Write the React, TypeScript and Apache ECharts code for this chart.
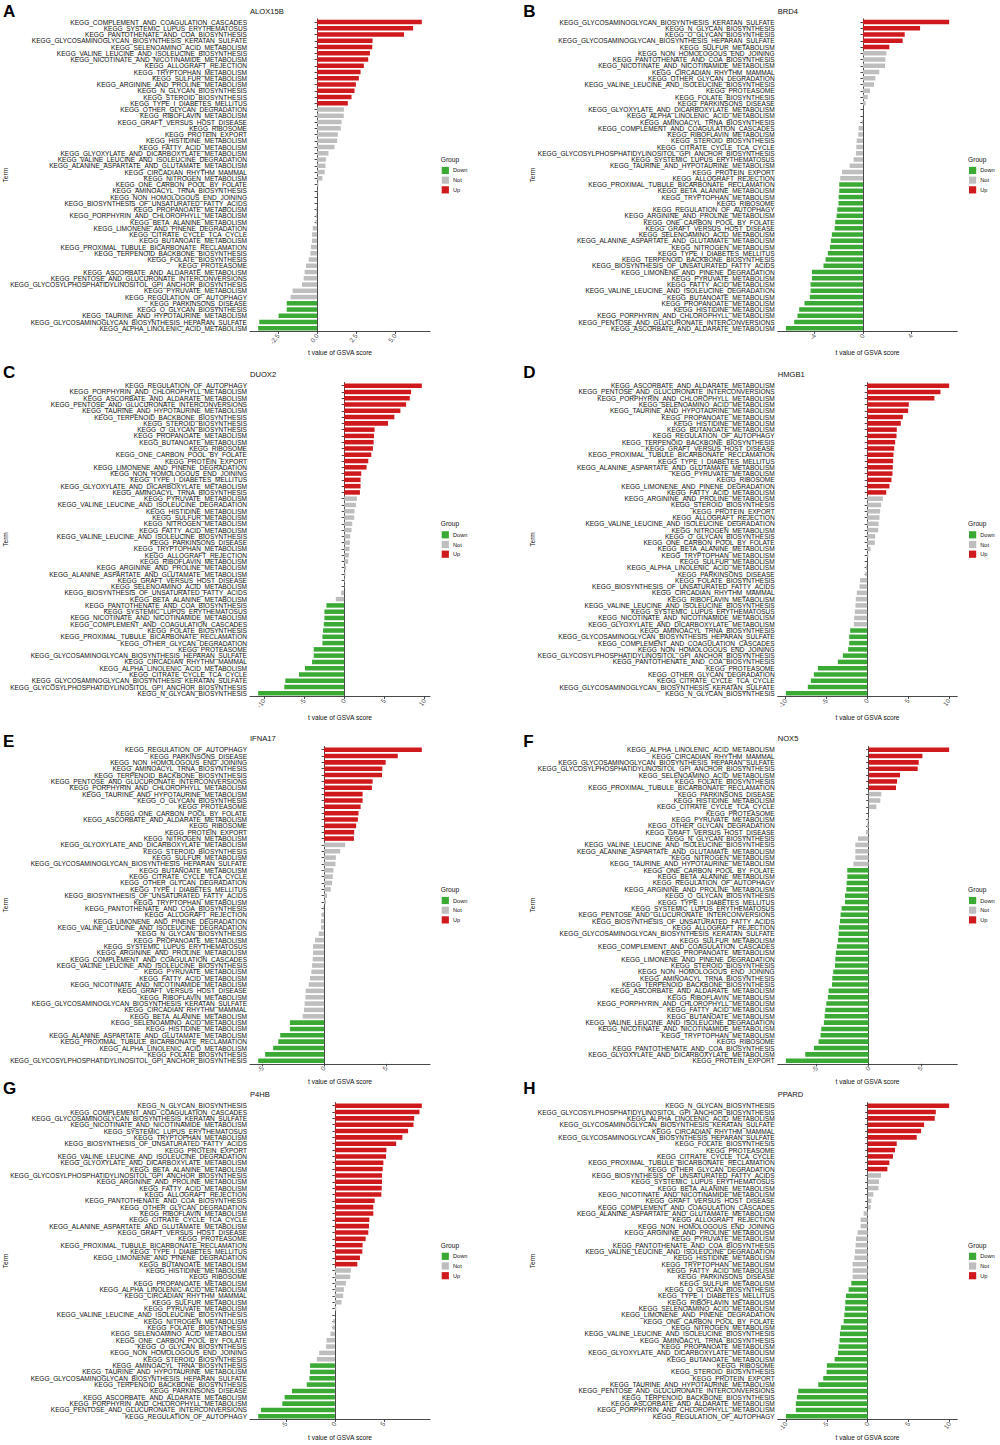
import React, { useEffect, useRef } from "react";
import * as echarts from "echarts";

// ---- term dictionary (short code -> KEGG term) ----
const TERM_NAMES: Record<string, string> = {
  CCC: "KEGG_COMPLEMENT_AND_COAGULATION_CASCADES",
  SLE: "KEGG_SYSTEMIC_LUPUS_ERYTHEMATOSUS",
  PAN: "KEGG_PANTOTHENATE_AND_COA_BIOSYNTHESIS",
  KER: "KEGG_GLYCOSAMINOGLYCAN_BIOSYNTHESIS_KERATAN_SULFATE",
  SEL: "KEGG_SELENOAMINO_ACID_METABOLISM",
  VLB: "KEGG_VALINE_LEUCINE_AND_ISOLEUCINE_BIOSYNTHESIS",
  NIC: "KEGG_NICOTINATE_AND_NICOTINAMIDE_METABOLISM",
  ALL: "KEGG_ALLOGRAFT_REJECTION",
  TRP: "KEGG_TRYPTOPHAN_METABOLISM",
  SUL: "KEGG_SULFUR_METABOLISM",
  ARG: "KEGG_ARGININE_AND_PROLINE_METABOLISM",
  NGL: "KEGG_N_GLYCAN_BIOSYNTHESIS",
  STE: "KEGG_STEROID_BIOSYNTHESIS",
  T1D: "KEGG_TYPE_I_DIABETES_MELLITUS",
  OGD: "KEGG_OTHER_GLYCAN_DEGRADATION",
  RIF: "KEGG_RIBOFLAVIN_METABOLISM",
  GVH: "KEGG_GRAFT_VERSUS_HOST_DISEASE",
  RIB: "KEGG_RIBOSOME",
  PEX: "KEGG_PROTEIN_EXPORT",
  HIS: "KEGG_HISTIDINE_METABOLISM",
  FAT: "KEGG_FATTY_ACID_METABOLISM",
  GLX: "KEGG_GLYOXYLATE_AND_DICARBOXYLATE_METABOLISM",
  VLD: "KEGG_VALINE_LEUCINE_AND_ISOLEUCINE_DEGRADATION",
  ALA: "KEGG_ALANINE_ASPARTATE_AND_GLUTAMATE_METABOLISM",
  CIR: "KEGG_CIRCADIAN_RHYTHM_MAMMAL",
  NIT: "KEGG_NITROGEN_METABOLISM",
  OCP: "KEGG_ONE_CARBON_POOL_BY_FOLATE",
  AMI: "KEGG_AMINOACYL_TRNA_BIOSYNTHESIS",
  NHE: "KEGG_NON_HOMOLOGOUS_END_JOINING",
  BUF: "KEGG_BIOSYNTHESIS_OF_UNSATURATED_FATTY_ACIDS",
  PRO: "KEGG_PROPANOATE_METABOLISM",
  POR: "KEGG_PORPHYRIN_AND_CHLOROPHYLL_METABOLISM",
  BAL: "KEGG_BETA_ALANINE_METABOLISM",
  LIM: "KEGG_LIMONENE_AND_PINENE_DEGRADATION",
  TCA: "KEGG_CITRATE_CYCLE_TCA_CYCLE",
  BUT: "KEGG_BUTANOATE_METABOLISM",
  PTB: "KEGG_PROXIMAL_TUBULE_BICARBONATE_RECLAMATION",
  TER: "KEGG_TERPENOID_BACKBONE_BIOSYNTHESIS",
  FOL: "KEGG_FOLATE_BIOSYNTHESIS",
  PSM: "KEGG_PROTEASOME",
  ASC: "KEGG_ASCORBATE_AND_ALDARATE_METABOLISM",
  PEN: "KEGG_PENTOSE_AND_GLUCURONATE_INTERCONVERSIONS",
  GPI: "KEGG_GLYCOSYLPHOSPHATIDYLINOSITOL_GPI_ANCHOR_BIOSYNTHESIS",
  PYR: "KEGG_PYRUVATE_METABOLISM",
  AUT: "KEGG_REGULATION_OF_AUTOPHAGY",
  PAR: "KEGG_PARKINSONS_DISEASE",
  OGL: "KEGG_O_GLYCAN_BIOSYNTHESIS",
  TAU: "KEGG_TAURINE_AND_HYPOTAURINE_METABOLISM",
  HEP: "KEGG_GLYCOSAMINOGLYCAN_BIOSYNTHESIS_HEPARAN_SULFATE",
  ALN: "KEGG_ALPHA_LINOLENIC_ACID_METABOLISM",
};

const panelLetters = ["A", "B", "C", "D", "E", "F", "G", "H"];
const geneNames = ["ALOX15B", "BRD4", "DUOX2", "HMGB1", "IFNA17", "NOX5", "P4HB", "PPARD"];
const groupNames = ["Down", "Not", "Up"];
const xAxisTitle = "t value of GSVA score";
const yAxisTitle = "Term";
const legendTitle = "Group";

// ---- A: ALOX15B ----
const termsA = ["CCC","SLE","PAN","KER","SEL","VLB","NIC","ALL","TRP","SUL","ARG","NGL","STE","T1D","OGD","RIF","GVH","RIB","PEX","HIS","FAT","GLX","VLD","ALA","CIR","NIT","OCP","AMI","NHE","BUF","PRO","POR","BAL","LIM","TCA","BUT","PTB","TER","FOL","PSM","ASC","PEN","GPI","PYR","AUT","PAR","OGL","TAU","HEP","ALN"];
const valuesA = [6.72,6.16,5.58,3.56,3.54,3.39,3.28,3.0,2.79,2.68,2.49,2.4,2.21,1.97,1.72,1.71,1.57,1.52,1.33,1.29,1.12,0.73,0.56,0.54,0.49,0.34,0.09,0.02,0.01,-0.01,-0.06,-0.08,-0.1,-0.28,-0.32,-0.33,-0.39,-0.43,-0.54,-0.71,-0.8,-0.86,-0.97,-1.57,-1.7,-1.95,-1.95,-2.47,-3.71,-3.78];
const groupCountsA = [14, 31, 5]; // Up, Not, Down
const ticksA = [-2.5, 0, 2.5, 5];

// ---- B: BRD4 ----
const termsB = ["KER","NGL","OGL","HEP","SUL","NHE","PAN","NIC","CIR","OGD","VLB","PSM","FOL","PAR","GLX","ALN","AMI","CCC","RIF","STE","TCA","GPI","SLE","TAU","PEX","ALL","PTB","BAL","TRP","RIB","AUT","ARG","OCP","GVH","SEL","ALA","NIT","T1D","TER","BUF","LIM","PYR","FAT","VLD","BUT","PRO","HIS","POR","PEN","ASC"];
const valuesB = [7.12,4.72,3.45,3.28,2.18,1.93,1.85,1.82,1.35,1.02,0.91,0.58,0.39,0.22,0.01,-0.01,-0.08,-0.36,-0.39,-0.52,-0.55,-0.58,-0.77,-1.1,-1.74,-1.88,-1.96,-1.96,-2.01,-2.02,-2.12,-2.18,-2.29,-2.34,-2.57,-2.65,-2.73,-2.9,-3.09,-3.26,-4.22,-4.22,-4.33,-4.33,-4.39,-4.83,-5.27,-5.41,-5.68,-6.37];
const groupCountsB = [5, 21, 24];
const ticksB = [-4, 0, 4];

// ---- C: DUOX2 ----
const termsC = ["AUT","POR","ASC","PEN","TAU","TER","STE","OGL","PRO","BUT","RIB","OCP","PEX","LIM","NHE","T1D","GLX","AMI","PYR","VLD","HIS","SUL","NIT","FAT","VLB","PAR","TRP","ALL","RIF","ARG","ALA","GVH","SEL","BUF","BAL","PAN","SLE","NIC","CCC","FOL","PTB","OGD","PSM","HEP","CIR","ALN","TCA","KER","GPI","NGL"];
const valuesC = [9.67,8.33,8.17,7.71,7.0,6.25,5.46,3.79,3.71,3.67,3.58,3.38,3.0,2.79,2.13,2.04,2.04,1.96,1.58,1.46,1.29,1.25,1.0,0.92,0.75,0.71,0.67,0.58,0.5,0.25,0.17,0.08,0.04,-0.38,-1.04,-2.21,-2.46,-2.46,-2.54,-2.63,-2.71,-2.71,-3.79,-3.79,-4.0,-4.88,-5.63,-7.33,-7.46,-10.71];
const groupCountsC = [18, 17, 15];
const ticksC = [-10, -5, 0, 5, 10];

// ---- D: HMGB1 ----
const termsD = ["ASC","PEN","POR","SEL","TAU","PRO","HIS","BUT","AUT","TER","GVH","PTB","T1D","ALA","PYR","RIB","LIM","FAT","ARG","STE","PEX","ALL","VLD","NIT","OGL","OCP","BAL","TRP","SUL","ALN","PAR","FOL","BUF","CIR","RIF","VLB","SLE","NIC","GLX","AMI","HEP","CCC","NHE","GPI","PAN","PSM","OGD","TCA","KER","NGL"];
const valuesD = [10.04,8.98,8.24,5.1,5.02,4.37,4.12,3.63,3.59,3.43,3.31,3.22,3.18,3.14,3.1,2.98,2.73,2.33,1.92,1.71,1.59,1.51,1.39,1.35,0.98,0.94,0.41,0.16,0.01,-0.16,-0.24,-0.86,-0.94,-1.27,-1.39,-1.43,-1.51,-1.59,-1.63,-2.08,-2.2,-2.2,-2.33,-2.98,-3.59,-6.04,-6.53,-6.9,-7.27,-9.96];
const groupCountsD = [18, 21, 11];
const ticksD = [-10, -5, 0, 5, 10];

// ---- E: IFNA17 ----
const termsE = ["AUT","PAR","NHE","AMI","TER","PEN","POR","TAU","OGL","PSM","OCP","ASC","RIB","PEX","NIT","GLX","STE","SUL","HEP","BUT","TCA","OGD","T1D","BUF","TRP","PAN","ALL","LIM","VLD","NGL","PRO","SLE","ARG","CCC","VLB","PYR","FAT","NIC","GVH","RIF","KER","CIR","BAL","SEL","HIS","ALA","PTB","ALN","FOL","GPI"];
const valuesE = [7.89,5.95,4.97,4.7,4.68,3.92,3.86,3.11,3.11,2.95,2.78,2.73,2.59,2.43,2.41,1.7,1.3,0.95,0.92,0.76,0.7,0.65,0.54,0.24,0.16,-0.05,-0.19,-0.24,-0.24,-0.43,-0.73,-0.89,-0.89,-0.92,-0.97,-1.03,-1.14,-1.24,-1.49,-1.51,-1.57,-1.62,-1.73,-2.76,-2.76,-3.54,-3.7,-4.11,-4.76,-5.32];
const groupCountsE = [15, 28, 7];
const ticksE = [-5, 0, 5];

// ---- F: NOX5 ----
const termsF = ["ALN","CIR","HEP","GPI","SEL","FOL","PTB","PAR","HIS","TCA","PSM","PYR","OGD","GVH","NGL","VLB","ALA","NIT","TAU","OCP","BAL","AUT","ARG","OGL","T1D","SLE","PEN","BUF","ALL","KER","SUL","CCC","PRO","LIM","STE","NHE","AMI","TER","ASC","RIF","POR","FAT","BUT","VLD","NIC","TRP","RIB","PAN","GLX","PEX"];
const valuesF = [7.68,5.13,4.78,4.68,2.99,2.71,2.61,1.21,1.11,0.73,0.02,-0.1,-0.16,-0.25,-1.02,-1.27,-1.27,-1.27,-1.46,-2.04,-2.04,-2.1,-2.13,-2.26,-2.26,-2.58,-2.68,-2.74,-2.83,-2.87,-2.93,-3.03,-3.12,-3.18,-3.22,-3.38,-3.47,-3.5,-3.82,-3.89,-4.04,-4.14,-4.2,-4.27,-4.52,-4.59,-4.78,-5.22,-6.05,-7.9];
const groupCountsF = [7, 12, 31];
const ticksF = [-5, 0, 5];

// ---- G: P4HB ----
const termsG = ["NGL","CCC","KER","NIC","SLE","TRP","BUF","PEX","VLD","GLX","BAL","GPI","ARG","FAT","ALL","PAN","OGD","RIF","TCA","ALA","GVH","PSM","PTB","T1D","LIM","BUT","HIS","RIB","PRO","ALN","CIR","SUL","PYR","VLB","NIT","FOL","SEL","OCP","OGL","NHE","STE","AMI","TAU","HEP","TER","PAR","ASC","POR","PEN","AUT"];
const valuesG = [8.87,8.63,8.09,8.02,7.47,6.89,6.25,5.26,5.22,4.95,4.88,4.81,4.81,4.78,4.74,4.06,3.92,3.92,3.52,3.48,3.41,3.14,2.83,2.8,2.56,2.29,1.64,1.57,1.13,0.92,0.85,0.68,0.14,0.01,-0.17,-0.24,-0.44,-0.85,-0.89,-1.6,-1.84,-2.53,-2.53,-2.59,-2.87,-4.37,-5.12,-5.36,-7.54,-7.82];
const groupCountsG = [26, 15, 9];
const ticksG = [-5, 0, 5];

// ---- H: PPARD ----
const termsH = ["NGL","GPI","ALN","KER","CIR","HEP","FOL","PSM","TCA","PTB","OGD","BUF","SLE","BAL","NIC","GVH","CCC","ALA","ALL","NHE","ARG","PYR","PAN","VLD","HIS","TRP","FAT","PAR","SUL","OGL","T1D","RIF","SEL","LIM","OCP","NIT","VLB","AMI","PRO","GLX","BUT","RIB","STE","PEX","TAU","PEN","TER","ASC","POR","AUT"];
const valuesH = [9.96,8.33,8.2,6.9,6.53,6.0,3.55,3.35,3.1,2.65,2.41,1.63,1.39,1.31,0.69,0.45,0.37,-0.49,-0.86,-0.86,-1.22,-1.43,-1.47,-1.55,-1.63,-1.84,-1.84,-1.84,-2.0,-2.33,-2.65,-2.73,-2.78,-2.86,-2.94,-3.27,-3.39,-3.43,-3.55,-3.63,-4.04,-4.98,-5.02,-5.43,-6.04,-8.49,-8.65,-8.78,-8.78,-10.0];
const groupCountsH = [11, 17, 22];
const ticksH = [-10, -5, 0, 5, 10];

const tickDecimals = [1, 0, 0, 0, 0, 0, 0, 0];

const panelTerms = [termsA, termsB, termsC, termsD, termsE, termsF, termsG, termsH];
const panelValues = [valuesA, valuesB, valuesC, valuesD, valuesE, valuesF, valuesG, valuesH];
const panelGroupCounts = [groupCountsA, groupCountsB, groupCountsC, groupCountsD, groupCountsE, groupCountsF, groupCountsG, groupCountsH];
const panelTicks = [ticksA, ticksB, ticksC, ticksD, ticksE, ticksF, ticksG, ticksH];

// ---- styling / layout ----
const COLORS: Record<string, string> = { Up: "#D0191D", Not: "#BEBEBE", Down: "#3BAA35" };
const FONT = "'Liberation Sans', Arial, Helvetica, sans-serif";
const COL_LEFT = [250, 777.7];
const COL_WIDTH = [180, 179.6];
const LETTER_X = [3, 523.3];
const TERM_X = [5.5, 532.3];
const ROWS = [
  { first: 22, last: 328.3, title: 11, letter: 11, xname: 352.7 },
  { first: 385.7, last: 693.3, title: 374.3, letter: 372.5, xname: 717.3 },
  { first: 749.7, last: 1060.7, title: 738.3, letter: 741, xname: 1081 },
  { first: 1105.7, last: 1416.3, title: 1094, letter: 1088.5, xname: 1437 },
];

function groupOf(j: number, counts: number[]) {
  if (j < counts[0]) return "Up";
  if (j < counts[0] + counts[1]) return "Not";
  return "Down";
}

function buildOption() {
  const grid: any[] = [];
  const xAxis: any[] = [];
  const yAxis: any[] = [];
  const series: any[] = [];
  const graphic: any[] = [];
  const axisColor = "#333";

  for (let i = 0; i < 8; i++) {
    const row = ROWS[Math.floor(i / 2)];
    const col = i % 2;
    const n = panelTerms[i].length;
    const s = (row.last - row.first) / (n - 1);
    const top = row.first - s / 2;
    const height = s * n;
    const left = COL_LEFT[col];
    const width = COL_WIDTH[col];
    const vals = panelValues[i];
    const dmin = Math.min(0, ...vals);
    const dmax = Math.max(0, ...vals);
    const span = dmax - dmin;
    const dec = tickDecimals[i];

    grid.push({ left, top, width, height, containLabel: false, outerBoundsMode: "none" });

    xAxis.push({
      gridIndex: i,
      type: "value",
      min: dmin - 0.05 * span,
      max: dmax + 0.05 * span,
      axisLine: { show: true, lineStyle: { color: axisColor, width: 0.9 } },
      splitLine: { show: false },
      axisTick: { show: true, length: 2.5, customValues: panelTicks[i], lineStyle: { color: axisColor, width: 0.9 } },
      axisLabel: {
        customValues: panelTicks[i],
        rotate: 52,
        fontSize: 6.5,
        fontFamily: FONT,
        color: "#4d4d4d",
        margin: 3,
        formatter: (v: number) => v.toFixed(dec),
      },
    });

    yAxis.push({
      gridIndex: i,
      type: "category",
      inverse: true,
      data: panelTerms[i].map((c) => TERM_NAMES[c]),
      axisLine: { show: true, lineStyle: { color: axisColor, width: 0.9 } },
      axisTick: { show: true, alignWithLabel: true, length: 2.5, lineStyle: { color: axisColor, width: 0.9 } },
      axisLabel: { interval: 0, fontSize: 6.55, fontFamily: FONT, color: "#111", margin: 3 },
      splitLine: { show: false },
    });

    series.push({
      type: "bar",
      xAxisIndex: i,
      yAxisIndex: i,
      barWidth: "72%",
      silent: true,
      data: vals.map((v, j) => ({ value: v, itemStyle: { color: COLORS[groupOf(j, panelGroupCounts[i])] } })),
    });

    // panel letter
    graphic.push({
      type: "text",
      x: LETTER_X[col],
      y: row.letter,
      style: { text: panelLetters[i], fontSize: 17, fontWeight: "bold", fontFamily: FONT, fill: "#000", align: "left", verticalAlign: "middle" },
    });
    // gene title
    graphic.push({
      type: "text",
      x: left,
      y: row.title,
      style: { text: geneNames[i], fontSize: 7.6, fontFamily: FONT, fill: "#111", align: "left", verticalAlign: "middle" },
    });
    // x axis title
    graphic.push({
      type: "text",
      x: left + width / 2,
      y: row.xname,
      style: { text: xAxisTitle, fontSize: 6.6, fontFamily: FONT, fill: "#111", align: "center", verticalAlign: "middle" },
    });
    // y axis title
    const cy = top + height / 2;
    graphic.push({
      type: "text",
      x: TERM_X[col],
      y: cy,
      rotation: Math.PI / 2,
      style: { text: yAxisTitle, fontSize: 6.6, fontFamily: FONT, fill: "#111", align: "center", verticalAlign: "middle" },
    });
    // legend
    const lx = left + width;
    graphic.push({
      type: "text",
      x: lx + 10.8,
      y: cy - 15.7,
      style: { text: legendTitle, fontSize: 6.6, fontFamily: FONT, fill: "#111", align: "left", verticalAlign: "middle" },
    });
    groupNames.forEach((g, k) => {
      const gy = cy - 4.7 + k * 9.7;
      graphic.push({
        type: "rect",
        shape: { x: lx + 11.7, y: gy - 3.6, width: 7.2, height: 7.2 },
        style: { fill: COLORS[g] },
      });
      graphic.push({
        type: "text",
        x: lx + 23,
        y: gy,
        style: { text: g, fontSize: 5.6, fontFamily: FONT, fill: "#111", align: "left", verticalAlign: "middle" },
      });
    });
  }

  return {
    animation: false,
    backgroundColor: "#fff",
    textStyle: { fontFamily: FONT },
    grid,
    xAxis,
    yAxis,
    series,
    graphic,
  };
}

export default function App() {
  const ref = useRef<HTMLDivElement>(null);
  useEffect(() => {
    if (!ref.current) return;
    const chart = echarts.init(ref.current, undefined, { renderer: "svg" });
    chart.setOption(buildOption() as any);
    return () => chart.dispose();
  }, []);
  return (
    <div
      ref={ref}
      style={{ position: "absolute", left: 0, top: 0, width: 1000, height: 1445, background: "#fff" }}
    />
  );
}
